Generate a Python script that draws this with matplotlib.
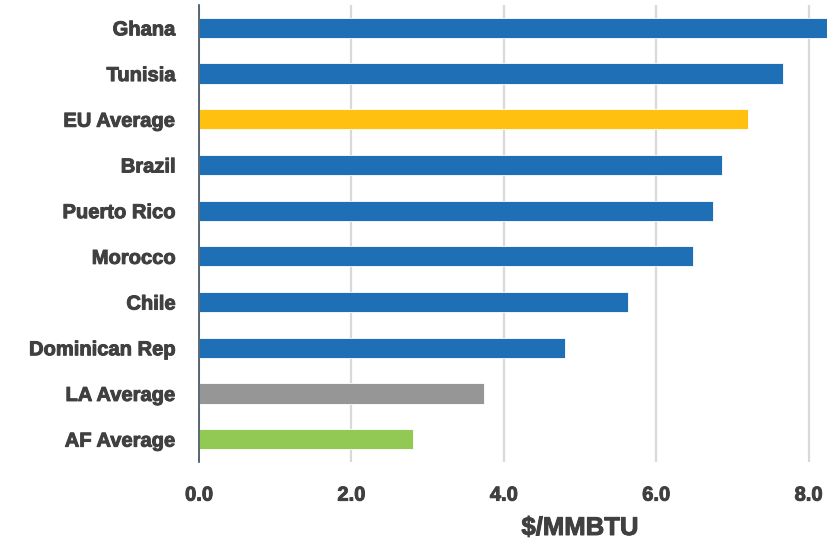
import matplotlib.pyplot as plt
import matplotlib.patheffects as pe

paises = ["Ghana", "Tunisia", "EU Average", "Brazil", "Puerto Rico", "Morocco",
          "Chile", "Dominican Rep", "LA Average", "AF Average"]
valores = [8.45, 7.66, 7.21, 6.86, 6.75, 6.48, 5.63, 4.80, 3.74, 2.81]
cores = ["#1f6fb6", "#1f6fb6", "#ffc010", "#1f6fb6", "#1f6fb6", "#1f6fb6",
         "#1f6fb6", "#1f6fb6", "#969696", "#92c954"]
ticks_x = [0, 2, 4, 6, 8]

fonte = ["Liberation Sans", "DejaVu Sans"]
cor_texto = "#404040"
contorno = [pe.withStroke(linewidth=0.7, foreground=cor_texto)]

fig = plt.figure(figsize=(8.27, 5.46), dpi=100)
ax = fig.add_axes([199 / 827, (546 - 462) / 546, (827 - 199) / 827, 457 / 546])

pos = list(range(len(paises)))[::-1]
ax.barh(pos, valores, height=0.44, color=cores, edgecolor="#ffffff", linewidth=0.6, zorder=3)

ax.set_xlim(0, (827 - 199) / 76.2)
ax.set_ylim(-0.5, 9.5)
ax.set_xticks(ticks_x)
ax.set_xticklabels([f"{t:.1f}" for t in ticks_x])
ax.set_yticks(pos)
ax.set_yticklabels(paises)

for lbl in ax.get_xticklabels() + ax.get_yticklabels():
    lbl.set_family(fonte)
    lbl.set_fontweight("bold")
    lbl.set_fontsize(14.5)
    lbl.set_color(cor_texto)
    lbl.set_path_effects(contorno)

ax.tick_params(axis="y", length=0, pad=17)
ax.tick_params(axis="x", length=0, pad=17)

ax.grid(axis="x", color="#d9d9d9", linewidth=1.6, zorder=0)
for lado in ["top", "right", "bottom"]:
    ax.spines[lado].set_visible(False)
ax.spines["left"].set_color("#3d4f61")
ax.spines["left"].set_linewidth(1.2)
ax.spines["left"].set_zorder(4)

fig.text(580 / 827, 1 - 528 / 546, "$/MMBTU", ha="center", va="center",
         family=fonte, fontweight="bold", fontsize=18.5, color=cor_texto,
         path_effects=contorno)

plt.savefig("out.png", dpi=100)
